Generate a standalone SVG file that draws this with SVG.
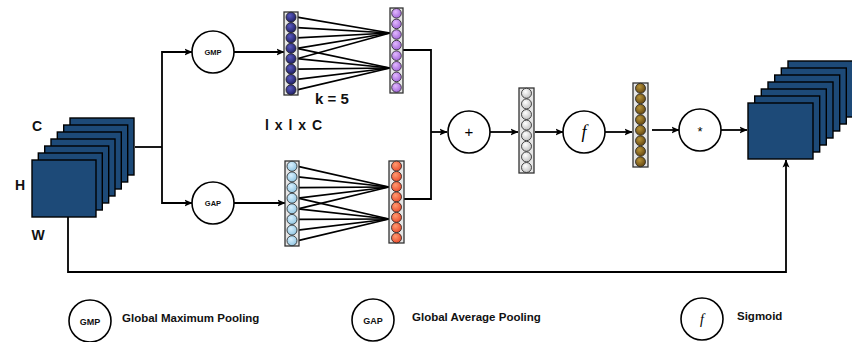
<svg xmlns="http://www.w3.org/2000/svg" width="852" height="342" viewBox="0 0 852 342">
<defs>
<style>
.ln{stroke:#000;stroke-width:1.8;fill:none}
.ar{stroke:#000;stroke-width:1.8;fill:none;marker-end:url(#ah)}
.op{fill:#fff;stroke:#000;stroke-width:1.6}
.sq{fill:#1d4a78;stroke:#000;stroke-width:1.4}
.col{fill:#e6e6e6;stroke:#333;stroke-width:1.3}
.nc{stroke:#222;stroke-width:0.8}
.fc{stroke:#000;stroke-width:1.7}
.lbl{font-family:"Liberation Sans",Arial,sans-serif;font-weight:bold;fill:#111}
.sym{font-family:"Liberation Sans",Arial,sans-serif;fill:#000}
.fn{font-family:"Liberation Serif","Times New Roman",serif;font-style:italic;fill:#000}
</style>
<marker id="ah" viewBox="0 0 8 8" markerWidth="8" markerHeight="8" refX="7.5" refY="4" orient="auto" markerUnits="userSpaceOnUse">
<path d="M0,0.5 L8,4 L0,7.5 L1.8,4 z" fill="#000"/>
</marker>
<radialGradient id="gNavy" cx="0.4" cy="0.35" r="0.7"><stop offset="0" stop-color="#5a5ac0"/><stop offset="1" stop-color="#1c1c5e"/></radialGradient>
<radialGradient id="gPurp" cx="0.4" cy="0.35" r="0.7"><stop offset="0" stop-color="#e2b8ff"/><stop offset="1" stop-color="#a064d8"/></radialGradient>
<radialGradient id="gBlue" cx="0.4" cy="0.35" r="0.7"><stop offset="0" stop-color="#d8f0ff"/><stop offset="1" stop-color="#8ec4e0"/></radialGradient>
<radialGradient id="gRed" cx="0.4" cy="0.35" r="0.7"><stop offset="0" stop-color="#ff9a70"/><stop offset="1" stop-color="#e8482a"/></radialGradient>
<radialGradient id="gGray" cx="0.4" cy="0.35" r="0.7"><stop offset="0" stop-color="#ffffff"/><stop offset="1" stop-color="#bdbdbd"/></radialGradient>
<radialGradient id="gBrown" cx="0.4" cy="0.35" r="0.7"><stop offset="0" stop-color="#b8943a"/><stop offset="1" stop-color="#5e4210"/></radialGradient>
</defs>
<rect width="852" height="342" fill="#fff"/>

<g id="connectors">
<polyline class="ln" points="135,147 162,147"/>
<polyline class="ar" points="162,147 162,52 192,52"/>
<polyline class="ar" points="162,147 162,203 192,203"/>
<line class="ar" x1="234" y1="52" x2="284" y2="52"/>
<line class="ar" x1="234" y1="203" x2="285" y2="203"/>
<polyline class="ln" points="403,50 431,50 431,199 404,199"/>
<line class="ar" x1="431" y1="132" x2="447" y2="132"/>
<line class="ar" x1="490" y1="132" x2="518" y2="132"/>
<line class="ar" x1="535" y1="132" x2="563" y2="132"/>
<line class="ar" x1="605" y1="132" x2="632" y2="132"/>
<line class="ar" x1="652" y1="130" x2="679" y2="130"/>
<line class="ar" x1="721" y1="130" x2="747" y2="130"/>
<polyline class="ar" points="68,217 68,272 786,272 786,160"/>
</g>

<g id="input-stack">
<rect class="sq" x="70" y="118" width="64" height="57"/>
<rect class="sq" x="63.7" y="125" width="64" height="57"/>
<rect class="sq" x="57.3" y="132" width="64" height="57"/>
<rect class="sq" x="51" y="139" width="64" height="57"/>
<rect class="sq" x="44.7" y="146" width="64" height="57"/>
<rect class="sq" x="38.3" y="153" width="64" height="57"/>
<rect class="sq" x="32" y="160" width="64" height="57"/>
<text class="lbl" x="37" y="131" font-size="14" text-anchor="middle">C</text>
<text class="lbl" x="20" y="190" font-size="14" text-anchor="middle">H</text>
<text class="lbl" x="38" y="240" font-size="14" text-anchor="middle">W</text>
</g>

<g id="gmp">
<circle class="op" cx="213" cy="52" r="21"/>
<text class="lbl" x="213" y="55" font-size="7.5" text-anchor="middle">GMP</text>
</g>
<g id="gap">
<circle class="op" cx="213" cy="203" r="21"/>
<text class="lbl" x="213" y="206" font-size="7.5" text-anchor="middle">GAP</text>
</g>

<g id="gmp-fc">
<line class="fc" x1="297" y1="17.2" x2="390" y2="33"/>
<line class="fc" x1="297" y1="27.6" x2="390" y2="33"/>
<line class="fc" x1="297" y1="37.9" x2="390" y2="33"/>
<line class="fc" x1="297" y1="48.3" x2="390" y2="33"/>
<line class="fc" x1="297" y1="58.7" x2="390" y2="33"/>
<line class="fc" x1="297" y1="48.3" x2="390" y2="68"/>
<line class="fc" x1="297" y1="58.7" x2="390" y2="68"/>
<line class="fc" x1="297" y1="69.1" x2="390" y2="68"/>
<line class="fc" x1="297" y1="79.4" x2="390" y2="68"/>
<line class="fc" x1="297" y1="89.8" x2="390" y2="68"/>
</g>
<g id="gap-fc">
<line class="fc" x1="298" y1="166.3" x2="389" y2="187"/>
<line class="fc" x1="298" y1="176.9" x2="389" y2="187"/>
<line class="fc" x1="298" y1="187.6" x2="389" y2="187"/>
<line class="fc" x1="298" y1="198.2" x2="389" y2="187"/>
<line class="fc" x1="298" y1="208.8" x2="389" y2="187"/>
<line class="fc" x1="298" y1="198.2" x2="389" y2="219"/>
<line class="fc" x1="298" y1="208.8" x2="389" y2="219"/>
<line class="fc" x1="298" y1="219.4" x2="389" y2="219"/>
<line class="fc" x1="298" y1="230.1" x2="389" y2="219"/>
<line class="fc" x1="298" y1="240.7" x2="389" y2="219"/>
</g>

<g id="gmp-neurons">
<rect class="col" x="284" y="12" width="14" height="83"/>
<g fill="url(#gNavy)" class="nc">
<circle cx="291" cy="17.2" r="5"/><circle cx="291" cy="27.6" r="5"/><circle cx="291" cy="37.9" r="5"/><circle cx="291" cy="48.3" r="5"/>
<circle cx="291" cy="58.7" r="5"/><circle cx="291" cy="69.1" r="5"/><circle cx="291" cy="79.4" r="5"/><circle cx="291" cy="89.8" r="5"/>
</g>
</g>
<g id="gmp-out">
<rect class="col" x="390" y="8" width="13" height="85"/>
<g fill="url(#gPurp)" class="nc">
<circle cx="396.5" cy="13.3" r="4.8"/><circle cx="396.5" cy="23.9" r="4.8"/><circle cx="396.5" cy="34.5" r="4.8"/><circle cx="396.5" cy="45.1" r="4.8"/>
<circle cx="396.5" cy="55.7" r="4.8"/><circle cx="396.5" cy="66.3" r="4.8"/><circle cx="396.5" cy="76.9" r="4.8"/><circle cx="396.5" cy="87.5" r="4.8"/>
</g>
</g>
<g id="gap-neurons">
<rect class="col" x="285" y="161" width="14" height="85"/>
<g fill="url(#gBlue)" class="nc">
<circle cx="292" cy="166.3" r="5"/><circle cx="292" cy="176.9" r="5"/><circle cx="292" cy="187.6" r="5"/><circle cx="292" cy="198.2" r="5"/>
<circle cx="292" cy="208.8" r="5"/><circle cx="292" cy="219.4" r="5"/><circle cx="292" cy="230.1" r="5"/><circle cx="292" cy="240.7" r="5"/>
</g>
</g>
<g id="gap-out">
<rect class="col" x="389" y="161" width="15" height="82"/>
<g fill="url(#gRed)" class="nc">
<circle cx="396.5" cy="166.1" r="5"/><circle cx="396.5" cy="176.4" r="5"/><circle cx="396.5" cy="186.6" r="5"/><circle cx="396.5" cy="196.9" r="5"/>
<circle cx="396.5" cy="207.1" r="5"/><circle cx="396.5" cy="217.4" r="5"/><circle cx="396.5" cy="227.6" r="5"/><circle cx="396.5" cy="237.9" r="5"/>
</g>
</g>

<g id="labels">
<text class="lbl" x="332" y="104" font-size="15" text-anchor="middle">k = 5</text>
<text class="lbl" x="294" y="130" font-size="14" text-anchor="middle" letter-spacing="1">l x l x C</text>
</g>

<g id="add">
<circle class="op" cx="469" cy="132" r="21"/>
<text class="sym" x="469" y="137" font-size="15" text-anchor="middle">+</text>
</g>
<g id="sum-neurons">
<rect class="col" x="519" y="88" width="15" height="85"/>
<g fill="url(#gGray)" class="nc">
<circle cx="526.5" cy="93.3" r="5"/><circle cx="526.5" cy="103.9" r="5"/><circle cx="526.5" cy="114.5" r="5"/><circle cx="526.5" cy="125.1" r="5"/>
<circle cx="526.5" cy="135.7" r="5"/><circle cx="526.5" cy="146.3" r="5"/><circle cx="526.5" cy="156.9" r="5"/><circle cx="526.5" cy="167.5" r="5"/>
</g>
</g>
<g id="sigmoid">
<circle class="op" cx="584" cy="132" r="21"/>
<text class="fn" x="584" y="138" font-size="18" text-anchor="middle">f</text>
</g>
<g id="sig-neurons">
<rect class="col" x="633" y="83" width="15" height="84"/>
<g fill="url(#gBrown)" class="nc">
<circle cx="640.5" cy="88.3" r="5"/><circle cx="640.5" cy="98.8" r="5"/><circle cx="640.5" cy="109.3" r="5"/><circle cx="640.5" cy="119.8" r="5"/>
<circle cx="640.5" cy="130.3" r="5"/><circle cx="640.5" cy="140.8" r="5"/><circle cx="640.5" cy="151.3" r="5"/><circle cx="640.5" cy="161.8" r="5"/>
</g>
</g>
<g id="multiply">
<circle class="op" cx="700" cy="130" r="21"/>
<text class="sym" x="700" y="136" font-size="13" text-anchor="middle">*</text>
</g>

<g id="output-stack">
<rect class="sq" x="788" y="61" width="65" height="56"/>
<rect class="sq" x="781.3" y="68" width="65" height="56"/>
<rect class="sq" x="774.7" y="75" width="65" height="56"/>
<rect class="sq" x="768" y="82" width="65" height="56"/>
<rect class="sq" x="761.3" y="89" width="65" height="56"/>
<rect class="sq" x="754.7" y="96" width="65" height="56"/>
<rect class="sq" x="748" y="103" width="65" height="56"/>
</g>

<g id="legend-gmp">
<circle class="op" cx="90" cy="321" r="21"/>
<text class="lbl" x="90" y="324.5" font-size="9" text-anchor="middle">GMP</text>
<text class="lbl" x="122" y="322" font-size="11.5">Global Maximum Pooling</text>
</g>
<g id="legend-gap">
<circle class="op" cx="373" cy="320" r="21"/>
<text class="lbl" x="373" y="323.5" font-size="9" text-anchor="middle">GAP</text>
<text class="lbl" x="412" y="321" font-size="11.5">Global Average Pooling</text>
</g>
<g id="legend-sig">
<circle class="op" cx="702" cy="319" r="21"/>
<text class="fn" x="702" y="324" font-size="14" text-anchor="middle">f</text>
<text class="lbl" x="737" y="320" font-size="11.5">Sigmoid</text>
</g>
</svg>
